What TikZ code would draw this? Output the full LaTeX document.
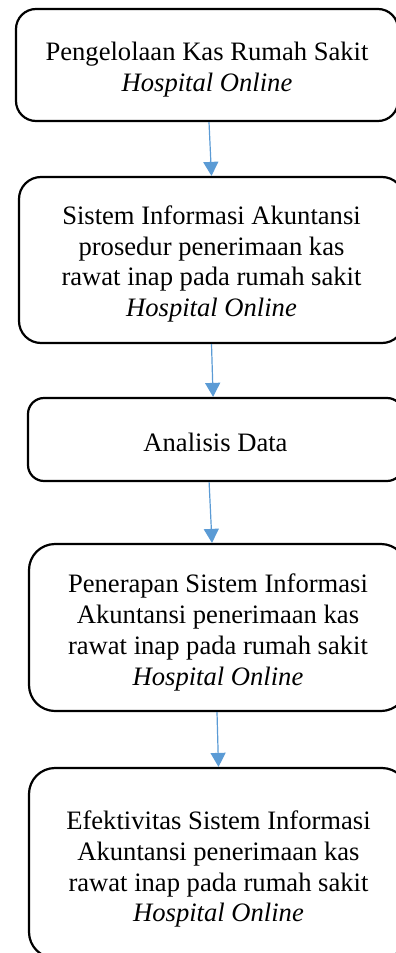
\documentclass[tikz,border=0pt]{standalone}
\usepackage{fontspec}
\setmainfont{Liberation Serif}
\usepackage{tikz}
\usetikzlibrary{arrows.meta}
\usepackage{xcolor}
\definecolor{ColArrow}{RGB}{91,155,213}
\newcommand{\FlowLead}[1]{\rule{0pt}{#1}}
\tikzstyle{BoxFlow}=[draw=black,line width=1.1pt,rounded corners=11pt,align=center,
inner sep=0pt,font=\fontsize{13.3}{15.4}\selectfont]
\tikzstyle{ArrowFlow}=[ColArrow,line width=0.6pt,-{Triangle[width=7.5pt,length=7pt]}]

\begin{document}
\begin{tikzpicture}[x=0.5pt,y=-0.5pt]
        \useasboundingbox (0,0) rectangle (396,953);
        \node[BoxFlow,minimum width=191pt,minimum height=56pt,rounded corners=10pt](kas)at(207,65)
            {\FlowLead{14.2pt}Pengelolaan Kas Rumah Sakit\\\textit{Hospital Online}};
        \node[BoxFlow,minimum width=192.5pt,minimum height=83pt](sia)at(211.5,260)
            {\FlowLead{13.4pt}Sistem Informasi Akuntansi\\prosedur penerimaan kas\\rawat inap pada rumah sakit\\\textit{Hospital Online}};
        \node[BoxFlow,minimum width=187.5pt,minimum height=41.5pt,rounded corners=8pt](analisis)at(215.5,439.5)
            {\FlowLead{12.2pt}Analisis Data};
        \node[BoxFlow,minimum width=189pt,minimum height=83.5pt,rounded corners=13pt](penerapan)at(218,627.5)
            {\FlowLead{14.2pt}Penerapan Sistem Informasi\\Akuntansi penerimaan kas\\rawat inap pada rumah sakit\\\textit{Hospital Online}};
        \node[BoxFlow,minimum width=189.5pt,minimum height=95pt,rounded corners=13pt](efektif)at(218.5,863)
            {\FlowLead{15.5pt}Efektivitas Sistem Informasi\\Akuntansi penerimaan kas\\rawat inap pada rumah sakit\\\textit{Hospital Online}};
        \draw[ArrowFlow]([xshift=1pt]kas.south)--(sia.north);
        \draw[ArrowFlow](sia.south)--([xshift=-1.2pt]analisis.north);
        \draw[ArrowFlow]([xshift=-3.2pt]analisis.south)--([xshift=-3pt]penerapan.north);
        \draw[ArrowFlow]([xshift=-0.5pt]penerapan.south)--(efektif.north);
    \end{tikzpicture}
\end{document}
